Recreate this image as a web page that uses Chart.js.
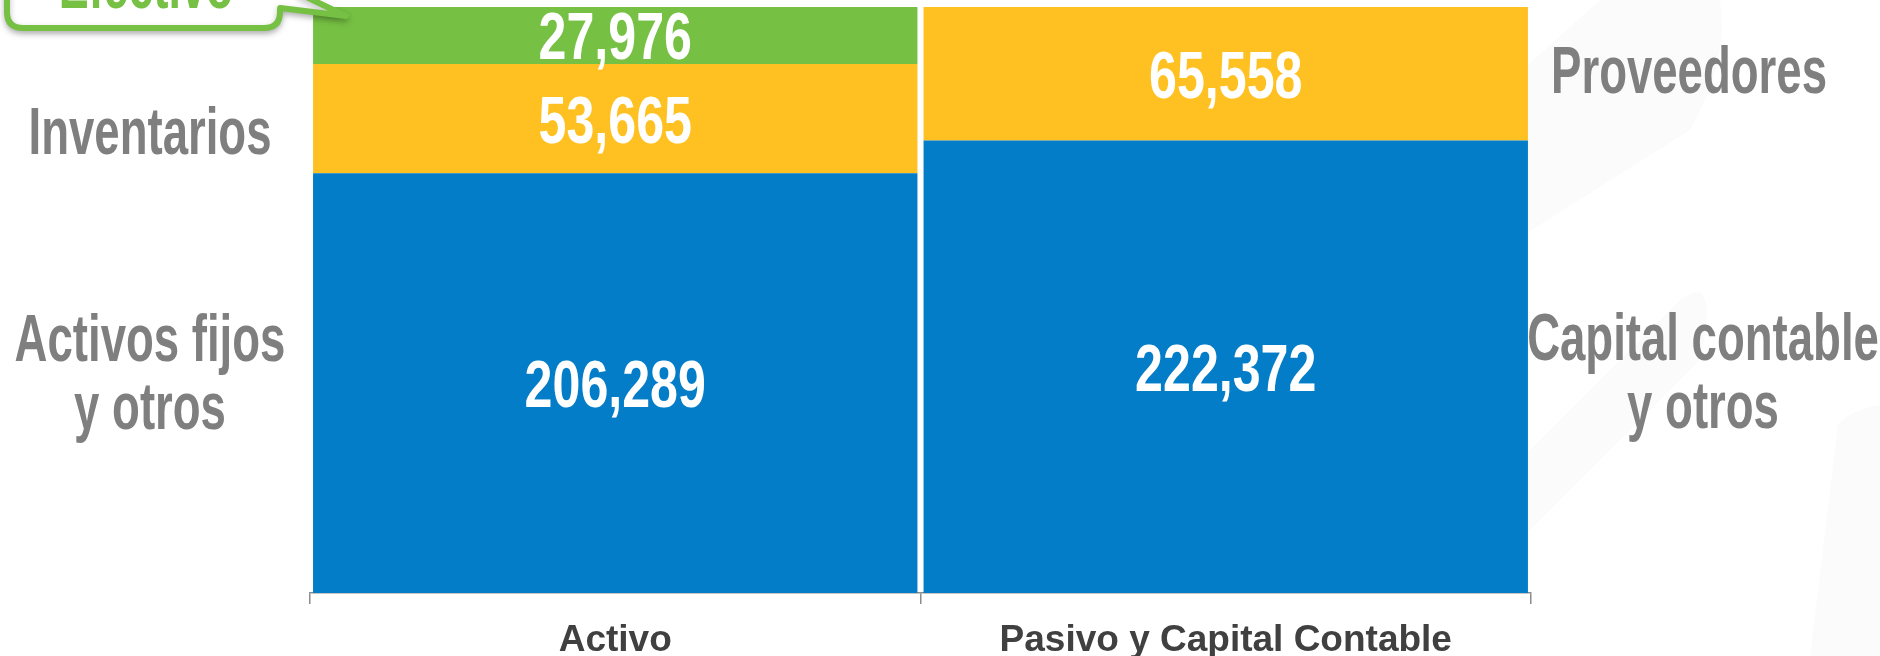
<!DOCTYPE html>
<html>
<head>
<meta charset="utf-8">
<script src="https://cdn.jsdelivr.net/npm/chart.js@4.4.1/dist/chart.umd.min.js"></script>
<style>
  html, body { margin: 0; padding: 0; background: #ffffff; }
  #wrap { position: relative; width: 1880px; height: 656px; }
</style>
</head>
<body>
<div id="wrap"><canvas id="balance"></canvas></div>
<script>
// Datos del balance (miles)
const categories = ['Activo', 'Pasivo y Capital Contable'];
const baseValues = [206289, 222372];      // Activos fijos y otros / Capital contable y otros
const middleValues = [53665, 65558];      // Inventarios / Proveedores
const topValues = [27976, null];          // Efectivo
const activoNames = ['Activos fijos\ny otros', 'Inventarios', 'Efectivo'];
const pasivoNames = ['Capital contable\ny otros', 'Proveedores'];

const colors = ['#037DC8', '#FFC122', '#76C043'];
const grisTexto = '#7F7F7F';

// total de la pila, el eje llega justo al tope de las barras
const stackMax = Math.max(...categories.map((c, i) => (baseValues[i] || 0) + (middleValues[i] || 0) + (topValues[i] || 0)));

// texto "condensado" (simula la fuente tipo Agency)
function drawNarrow(ctx, text, x, y, size, color, sx) {
    ctx.save();
    ctx.font = `bold ${size}px "Liberation Sans", Arial, sans-serif`;
    ctx.fillStyle = color;
    ctx.textAlign = 'center';
    ctx.textBaseline = 'alphabetic';
    ctx.translate(x, y);
    ctx.scale(sx, 1);
    ctx.fillText(text, 0, 0);
    ctx.restore();
}

function drawBlock(ctx, text, cx, cy, color) {
    const lines = text.split('\n');
    const lineH = 68;
    lines.forEach((ln, i) => {
        const base = cy + 24 + (i - (lines.length - 1) / 2) * lineH;
        drawNarrow(ctx, ln, cx, base, 66, color, 0.69);
    });
}

// fondo con formas muy tenues
const fondoPlugin = {
    id: 'fondo',
    beforeDraw(chart) {
        const ctx = chart.ctx;
        ctx.save();
        ctx.fillStyle = '#FBFBFB';
        ctx.beginPath();
        ctx.moveTo(1600, 0);
        ctx.lineTo(1720, 0);
        ctx.quadraticCurveTo(1730, 60, 1690, 130);
        ctx.lineTo(1500, 250);
        ctx.lineTo(1500, 90);
        ctx.closePath();
        ctx.fill();
        ctx.beginPath();
        ctx.moveTo(1500, 480);
        ctx.lineTo(1680, 300);
        ctx.quadraticCurveTo(1720, 270, 1700, 360);
        ctx.lineTo(1500, 560);
        ctx.closePath();
        ctx.fill();
        ctx.beginPath();
        ctx.moveTo(1838, 425);
        ctx.quadraticCurveTo(1850, 410, 1880, 405);
        ctx.lineTo(1880, 656);
        ctx.lineTo(1810, 656);
        ctx.closePath();
        ctx.fill();
        ctx.restore();
    }
};

const etiquetasPlugin = {
    id: 'etiquetas',
    afterDatasetsDraw(chart) {
        const ctx = chart.ctx;
        const area = chart.chartArea;

        // valores dentro de cada segmento
        chart.data.datasets.forEach((ds, di) => {
            const meta = chart.getDatasetMeta(di);
            meta.data.forEach((bar, i) => {
                const v = ds.data[i];
                if (v === null || v === undefined) return;
                const cy = (bar.y + bar.base) / 2;
                drawNarrow(ctx, v.toLocaleString('en-US'), bar.x, cy + 24, 66, '#FFFFFF', 0.76);
            });
        });

        // nombres a los lados
        const segCenter = (di, i) => {
            const bar = chart.getDatasetMeta(di).data[i];
            return (bar.y + bar.base) / 2;
        };
        const leftX = area.left - 160;
        const rightX = area.right + 172;
        drawBlock(ctx, activoNames[0], leftX, segCenter(0, 0) - 12, grisTexto);
        drawBlock(ctx, activoNames[1], leftX, segCenter(1, 0) + 11, grisTexto);
        drawBlock(ctx, pasivoNames[0], rightX, segCenter(0, 1) + 3, grisTexto);
        drawBlock(ctx, pasivoNames[1], rightX - 14, segCenter(1, 1) - 5, grisTexto);

        // globo "Efectivo"
        const green = colors[2];
        ctx.save();
        ctx.shadowColor = 'rgba(0,0,0,0.25)';
        ctx.shadowBlur = 6;
        ctx.shadowOffsetY = 3;
        ctx.beginPath();
        const l = 7, r = 280, b = 28, t = -80, rad = 16;
        ctx.moveTo(l + rad, t);
        ctx.lineTo(r + 20, t);
        ctx.lineTo(r + 20, -6);
        ctx.lineTo(area.left + 36, 16);
        ctx.lineTo(r, 8);
        ctx.lineTo(r, b - rad);
        ctx.quadraticCurveTo(r, b, r - rad, b);
        ctx.lineTo(l + rad, b);
        ctx.quadraticCurveTo(l, b, l, b - rad);
        ctx.lineTo(l, t + rad);
        ctx.closePath();
        ctx.fillStyle = '#FFFFFF';
        ctx.fill();
        ctx.lineWidth = 6;
        ctx.lineJoin = 'round';
        ctx.strokeStyle = green;
        ctx.stroke();
        ctx.restore();
        drawNarrow(ctx, activoNames[2], 146, 8, 66, green, 0.68);
    }
};

new Chart(document.getElementById('balance'), {
    type: 'bar',
    data: {
        labels: categories,
        datasets: [
            { label: 'Activos fijos / Capital contable', data: baseValues, backgroundColor: colors[0] },
            { label: 'Inventarios / Proveedores', data: middleValues, backgroundColor: colors[1] },
            { label: 'Efectivo', data: topValues, backgroundColor: colors[2] }
        ]
    },
    options: {
        responsive: true,
        maintainAspectRatio: false,
        animation: false,
        layout: { padding: { left: 310, right: 349, top: 7, bottom: 0 } },
        datasets: { bar: { categoryPercentage: 1, barPercentage: 0.99, borderWidth: 0 } },
        plugins: { legend: { display: false }, tooltip: { enabled: false } },
        scales: {
            x: {
                stacked: true,
                afterFit: (s) => { s.height = 63; },
                grid: { display: true, drawOnChartArea: false, drawTicks: true, tickLength: 11, color: '#8C8C8C', lineWidth: 1.5 },
                border: { display: true, color: '#8C8C8C', width: 1.5 },
                ticks: { color: '#404040', padding: 15, font: { family: '"Liberation Sans", Arial, sans-serif', size: 37, weight: 'bold' } }
            },
            y: {
                stacked: true,
                display: false,
                min: 0,
                max: stackMax
            }
        }
    },
    plugins: [fondoPlugin, etiquetasPlugin]
});
</script>
</body>
</html>
